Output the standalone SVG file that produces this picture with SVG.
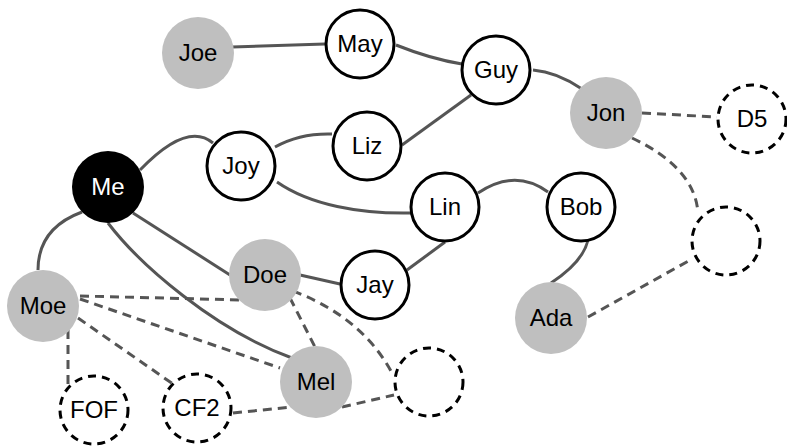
<svg xmlns="http://www.w3.org/2000/svg" width="787" height="446" viewBox="0 0 787 446">
<style>
.e{fill:none;stroke:#555;stroke-width:3}
.d{fill:none;stroke:#555;stroke-width:3;stroke-dasharray:9 6}
.w{fill:#fff;stroke:#000;stroke-width:3}
.g{fill:#bfbfbf;stroke:none}
.k{fill:#000;stroke:none}
.x{fill:#fff;stroke:#000;stroke-width:3;stroke-dasharray:8 6}
text{font-family:"Liberation Sans",Arial,sans-serif;font-size:24px;text-anchor:middle;fill:#000}
.wt{fill:#fff}
</style>
<rect width="787" height="446" fill="#fff"/>
<g id="connectors">
<path class="e" d="M232,47 L325,44"/>
<path class="e" d="M396,45 Q431,59 462,64"/>
<path class="e" d="M533,70 Q557,72 582,89"/>
<path class="e" d="M402,145 L471,95"/>
<path class="e" d="M140,170 Q187,121 213,143"/>
<path class="e" d="M275,147 Q300,133 332,134"/>
<path class="e" d="M277,182 C310,205 360,214 411,213"/>
<path class="e" d="M478,193 Q515,168 548,192"/>
<path class="e" d="M407,270 L445,242"/>
<path class="e" d="M300,275 L340,284"/>
<path class="e" d="M588,240 Q583,262 551,283"/>
<path class="e" d="M133,213 L230,275"/>
<path class="e" d="M108,223 C140,265 215,330 292,358"/>
<path class="e" d="M82,212 C55,222 38,240 38,270"/>
<path class="d" d="M642,113 L717,117"/>
<path class="d" d="M632,138 Q695,168 698,213"/>
<path class="d" d="M588,317 L692,259"/>
<path class="d" d="M80,296 L240,300"/>
<path class="d" d="M80,299 L280,368"/>
<path class="d" d="M68,330 L68,386"/>
<path class="d" d="M78,318 L173,384"/>
<path class="d" d="M290,298 L315,347"/>
<path class="d" d="M293,291 C330,305 370,330 393,375"/>
<path class="d" d="M233,413 L292,407"/>
<path class="d" d="M342,407 L394,395"/>
</g>
<g id="me"><circle class="k" cx="108" cy="187" r="36"/><text class="wt" x="108" y="195">Me</text></g>
<g id="joe"><circle class="g" cx="198" cy="53" r="36"/><text x="198" y="61">Joe</text></g>
<g id="may"><circle class="w" cx="360" cy="44" r="34"/><text x="360" y="52">May</text></g>
<g id="guy"><circle class="w" cx="496" cy="70" r="34"/><text x="496" y="78">Guy</text></g>
<g id="liz"><circle class="w" cx="367" cy="146" r="34"/><text x="367" y="154">Liz</text></g>
<g id="joy"><circle class="w" cx="241" cy="166" r="34"/><text x="241" y="174">Joy</text></g>
<g id="jon"><circle class="g" cx="606" cy="113" r="36"/><text x="606" y="121">Jon</text></g>
<g id="d5"><circle class="x" cx="752" cy="119" r="34"/><text x="752" y="127">D5</text></g>
<g id="lin"><circle class="w" cx="445" cy="207" r="34"/><text x="445" y="215">Lin</text></g>
<g id="bob"><circle class="w" cx="581" cy="207" r="34"/><text x="581" y="215">Bob</text></g>
<g id="empty-right"><circle class="x" cx="726" cy="241" r="34"/></g>
<g id="ada"><circle class="g" cx="551" cy="318" r="36"/><text x="551" y="326">Ada</text></g>
<g id="jay"><circle class="w" cx="375" cy="285" r="34"/><text x="375" y="293">Jay</text></g>
<g id="doe"><circle class="g" cx="265" cy="275" r="36"/><text x="265" y="283">Doe</text></g>
<g id="moe"><circle class="g" cx="43" cy="306" r="36"/><text x="43" y="314">Moe</text></g>
<g id="mel"><circle class="g" cx="316" cy="382" r="36"/><text x="316" y="390">Mel</text></g>
<g id="fof"><circle class="x" cx="94" cy="410" r="34"/><text x="94" y="418">FOF</text></g>
<g id="cf2"><circle class="x" cx="197" cy="408" r="34"/><text x="197" y="416">CF2</text></g>
<g id="empty-bottom"><circle class="x" cx="429" cy="382" r="34"/></g>
</svg>
